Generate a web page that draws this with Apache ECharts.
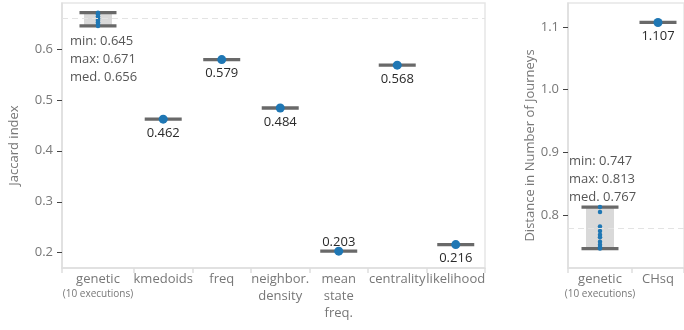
<!DOCTYPE html>
<html>
<head>
<meta charset="utf-8">
<title>Jaccard index / Distance in Number of Journeys</title>
<script src="https://cdn.jsdelivr.net/npm/echarts@6/dist/echarts.min.js"></script>
<style>
  html, body { margin: 0; padding: 0; background: #fff; }
  #chart { width: 684px; height: 330px; }
</style>
</head>
<body>
<div id="chart"></div>
<script>
// left panel: Jaccard index
var leftCats = ['genetic', 'kmedoids', 'freq', 'neighbor.\ndensity', 'mean\nstate\nfreq.', 'centrality', 'likelihood'];
var leftGenetic = [0.671, 0.668, 0.664, 0.660, 0.657, 0.655, 0.652, 0.649, 0.647, 0.645];
var leftOthers = [0.462, 0.579, 0.484, 0.203, 0.568, 0.216];
var leftRef = 0.66;
var leftTicks = [0.2, 0.3, 0.4, 0.5, 0.6];

// right panel: distance in number of journeys
var rightCats = ['genetic', 'CHsq'];
var rightGenetic = [0.813, 0.805, 0.782, 0.775, 0.769, 0.765, 0.758, 0.753, 0.749, 0.747];
var rightOthers = [1.107];
var rightRef = 0.778;
var rightTicks = [0.8, 0.9, 1.0, 1.1];

var geneticNote = '(10 executions)';

var BLUE = '#1f77b4';
var GREY = '#777';
var LINE = '#e3e3e3';
var GEN_W = 1.23; // the genetic slot is a bit wider than the others

function slotCenters(n) {
    var c = [GEN_W / 2];
    for (var i = 1; i < n; i++) c.push(GEN_W + i - 0.5);
    return c;
}
function slotEdges(n) {
    var e = [0];
    for (var i = 0; i < n; i++) e.push(GEN_W + i);
    return e;
}

function stats(arr) {
    var s = arr.slice().sort(function (a, b) { return a - b; });
    var n = s.length;
    var med = n % 2 ? s[(n - 1) / 2] : (s[n / 2 - 1] + s[n / 2]) / 2;
    return { min: s[0], max: s[n - 1], med: med };
}

function renderRange(params, api) {
    var x = api.value(0), lo = api.value(1), hi = api.value(2);
    var pHi = api.coord([x, hi]);
    var pLo = api.coord([x, lo]);
    var st = { stroke: '#696969', lineWidth: 3.3 };
    var kids = [];
    if (hi > lo) {
        kids.push({ type: 'rect', shape: { x: pHi[0] - 14, y: pHi[1], width: 28, height: pLo[1] - pHi[1] }, style: { fill: '#d9d9d9' } });
        kids.push({ type: 'line', shape: { x1: pLo[0] - 18.5, y1: pLo[1], x2: pLo[0] + 18.5, y2: pLo[1] }, style: st });
    }
    kids.push({ type: 'line', shape: { x1: pHi[0] - 18.5, y1: pHi[1], x2: pHi[0] + 18.5, y2: pHi[1] }, style: st });
    return { type: 'group', children: kids };
}

function xAxisFor(idx, cats) {
    var centers = slotCenters(cats.length);
    return {
        type: 'value', gridIndex: idx, min: 0, max: GEN_W + cats.length - 1,
        axisLine: { lineStyle: { color: '#dedede', width: 1.5 } },
        axisTick: { length: 5, customValues: slotEdges(cats.length), lineStyle: { color: '#dedede', width: 1.5 } },
        axisLabel: {
            color: GREY, fontSize: 13, lineHeight: 17, margin: 3,
            customValues: centers,
            formatter: function (v) {
                var k = 0;
                centers.forEach(function (c, i) { if (Math.abs(c - v) < Math.abs(centers[k] - v)) k = i; });
                return cats[k] === 'genetic' ? 'genetic\n{s|' + geneticNote + '}' : cats[k];
            },
            rich: { s: { fontSize: 10, lineHeight: 13, color: GREY } }
        },
        splitLine: { show: false }
    };
}

function yAxisFor(idx, name, min, max, ticks, gap) {
    return {
        type: 'value', gridIndex: idx, min: min, max: max,
        name: name, nameLocation: 'middle', nameGap: gap,
        nameTextStyle: { color: GREY, fontSize: 13, padding: [0, 20, 0, 0] },
        axisLine: { show: true, lineStyle: { color: '#dedede', width: 1.5 } },
        axisTick: { show: true, length: 5, customValues: ticks, lineStyle: { color: '#444' } },
        axisLabel: { color: GREY, fontSize: 13, margin: 9, customValues: ticks,
            formatter: function (v) { return v.toFixed(1); } },
        splitLine: { show: false }
    };
}

function panelSeries(idx, cats, genetic, others, ref, noteBelow) {
    var st = stats(genetic);
    var centers = slotCenters(cats.length);
    var rangeData = [[centers[0], st.min, st.max]];
    others.forEach(function (v, i) { rangeData.push([centers[i + 1], v, v]); });
    var note = 'min: ' + st.min.toFixed(3) + '\nmax: ' + st.max.toFixed(3) + '\nmed. ' + st.med.toFixed(3);
    return [
        {
            type: 'scatter', xAxisIndex: idx, yAxisIndex: idx, z: 1,
            symbolSize: 0, silent: true,
            data: [[centers[0], noteBelow ? st.min : st.max]],
            label: {
                show: true, position: noteBelow ? 'bottom' : 'top', distance: noteBelow ? 6 : 1,
                align: 'left', offset: noteBelow ? [-28, 0] : [-31, 0],
                color: '#2a2a2a', fontSize: 13, lineHeight: 18,
                formatter: function () { return note; }
            },
            markLine: {
                silent: true, symbol: 'none', label: { show: false },
                lineStyle: { type: [6, 4], color: LINE, width: 1 },
                data: [{ yAxis: ref }]
            }
        },
        {
            type: 'custom', xAxisIndex: idx, yAxisIndex: idx, z: 2,
            renderItem: renderRange, encode: { x: 0, y: [1, 2] },
            data: rangeData
        },
        {
            type: 'scatter', xAxisIndex: idx, yAxisIndex: idx, z: 3,
            symbolSize: 4.5, itemStyle: { color: BLUE, opacity: 1 },
            data: genetic.map(function (v) { return [centers[0], v]; })
        },
        {
            type: 'scatter', xAxisIndex: idx, yAxisIndex: idx, z: 4,
            symbolSize: 9, itemStyle: { color: BLUE, opacity: 1 },
            label: {
                show: true, position: 'bottom', distance: 2, color: '#2a2a2a', fontSize: 13, lineHeight: 15,
                formatter: function (p) { return p.value[1].toFixed(3); }
            },
            data: others.map(function (v, i) {
                var item = { value: [centers[i + 1], v] };
                // the lowest label sits above its line so it clears the axis
                if (cats[i + 1] === 'mean\nstate\nfreq.') {
                    item.label = { position: 'top', distance: -3 };
                }
                return item;
            })
        }
    ];
}

var chart = echarts.init(document.getElementById('chart'));
chart.setOption({
    animation: false,
    textStyle: { fontFamily: 'Open Sans' },
    grid: [
        { left: 61, top: 3, width: 424, bottom: 62, show: true, borderColor: '#e6e6e6', borderWidth: 1.5 },
        { left: 568, top: 3, right: -8, bottom: 62, show: true, borderColor: '#e6e6e6', borderWidth: 1.5 }
    ],
    xAxis: [xAxisFor(0, leftCats), xAxisFor(1, rightCats)],
    yAxis: [
        yAxisFor(0, 'Jaccard index', 0.17, 0.69, leftTicks, 41),
        yAxisFor(1, 'Distance in Number of Journeys', 0.716, 1.138, rightTicks, 29)
    ],
    series: panelSeries(0, leftCats, leftGenetic, leftOthers, leftRef, true)
        .concat(panelSeries(1, rightCats, rightGenetic, rightOthers, rightRef, false))
});
</script>
</body>
</html>
